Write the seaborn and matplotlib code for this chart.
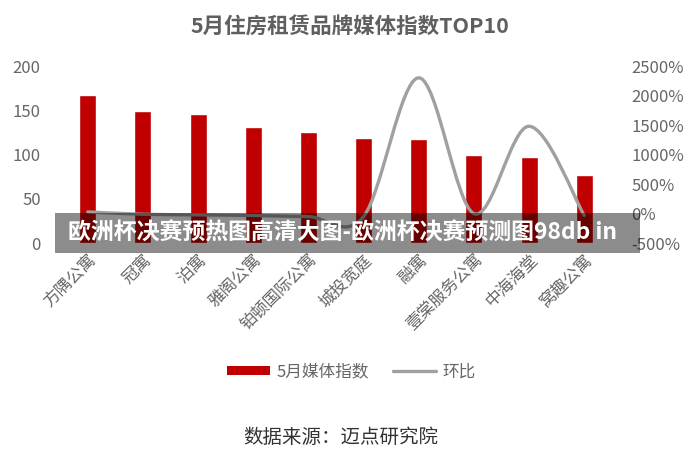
import matplotlib
matplotlib.use("Agg")
import matplotlib.pyplot as plt
from matplotlib.path import Path
from matplotlib.patches import PathPatch, Patch, Rectangle
from matplotlib.lines import Line2D
import seaborn as sns
import numpy as np

# Dados do gráfico
marcas = ["方隅公寓", "冠寓", "泊寓", "雅阁公寓", "铂顿国际公寓",
          "城投宽庭", "融寓", "壹棠服务公寓", "中海海堂", "窝趣公寓"]
indice = [167, 149, 146, 131, 126, 119, 118, 100, 97, 77]
huanbi = [30, -10, -20, -30, -50, -50, 2300, 0, 1480, -30]   # %

titulo = "5月住房租赁品牌媒体指数TOP10"
fonte = "数据来源：迈点研究院"
faixa = "欧洲杯决赛预热图高清大图-欧洲杯决赛预测图98db in"

sns.set_theme(style="white")
plt.rcParams['font.family'] = ['Noto Sans CJK SC', 'DejaVu Sans']

cinza_txt = "#666666"
vermelho = "#C00000"
cinza_linha = "#a0a0a0"

fig = plt.figure(figsize=(7, 4.65), dpi=100)
ax = fig.add_axes([0.086, 0.477, 0.788, 0.381])

sns.barplot(x=marcas, y=indice, color=vermelho, saturation=1, width=0.31, ax=ax)
ax.set_ylim(0, 200)
ax.set_yticks(range(0, 201, 50))
ax.set_xlim(-0.5, 9.5)
ax.set_xlabel("")
ax.set_ylabel("")
ax.tick_params(axis="y", labelsize=12, labelcolor=cinza_txt, length=0, pad=14)
ax.tick_params(axis="x", length=0, pad=6)
ax.set_xticks(range(len(marcas)))
ax.set_xticklabels(marcas, rotation=45, ha="right", va="top",
                   rotation_mode="anchor", fontsize=12, color=cinza_txt)
for s in ax.spines.values():
    s.set_visible(False)

# Eixo secundário com a linha suavizada (环比)
ax2 = ax.twinx()
ax2.set_ylim(-500, 2500)
ax2.set_yticks(range(-500, 2501, 500))
ax2.set_yticklabels([f"{v}%" for v in range(-500, 2501, 500)])
ax2.tick_params(axis="y", labelsize=12, labelcolor=cinza_txt, length=0, pad=14)
for s in ax2.spines.values():
    s.set_visible(False)

xs = np.arange(len(huanbi), dtype=float)
ys = np.array(huanbi, dtype=float)
verts = [(xs[0], ys[0])]
codes = [Path.MOVETO]
n = len(xs)
for i in range(n - 1):
    p0 = (xs[max(i - 1, 0)], ys[max(i - 1, 0)])
    p1 = (xs[i], ys[i])
    p2 = (xs[i + 1], ys[i + 1])
    p3 = (xs[min(i + 2, n - 1)], ys[min(i + 2, n - 1)])
    c1 = (p1[0] + (p2[0] - p0[0]) / 6, p1[1] + (p2[1] - p0[1]) / 6)
    c2 = (p2[0] - (p3[0] - p1[0]) / 6, p2[1] - (p3[1] - p1[1]) / 6)
    verts += [c1, c2, p2]
    codes += [Path.CURVE4] * 3
ax2.add_patch(PathPatch(Path(verts, codes), facecolor="none",
                        edgecolor=cinza_linha, lw=2.4, capstyle="round"))

fig.text(0.5, 0.942, titulo, ha="center", va="center", fontsize=15.5,
         fontweight="bold", color="#5f5f5f")

handles = [Patch(facecolor=vermelho, edgecolor="none"),
           Line2D([0], [0], color=cinza_linha, lw=2.4)]
fig.legend(handles, ["5月媒体指数", "环比"], loc="center",
           bbox_to_anchor=(0.502, 0.2), ncol=2, frameon=False, fontsize=12,
           labelcolor=cinza_txt, handlelength=2.6, handleheight=0.5,
           columnspacing=1.4, handletextpad=0.4)

fig.text(0.487, 0.06, fonte, ha="center", va="center", fontsize=14,
         color="#333333")

# Faixa sobreposta
fig.patches.append(Rectangle((0.079, 0.456), 0.835, 0.086, transform=fig.transFigure,
                             facecolor="black", alpha=0.45, edgecolor="none", zorder=5))
fig.text(0.097, 0.499, faixa, ha="left", va="center", fontsize=16.5,
         fontweight="bold", color="white", zorder=6)

fig.savefig("out.png", dpi=100)
